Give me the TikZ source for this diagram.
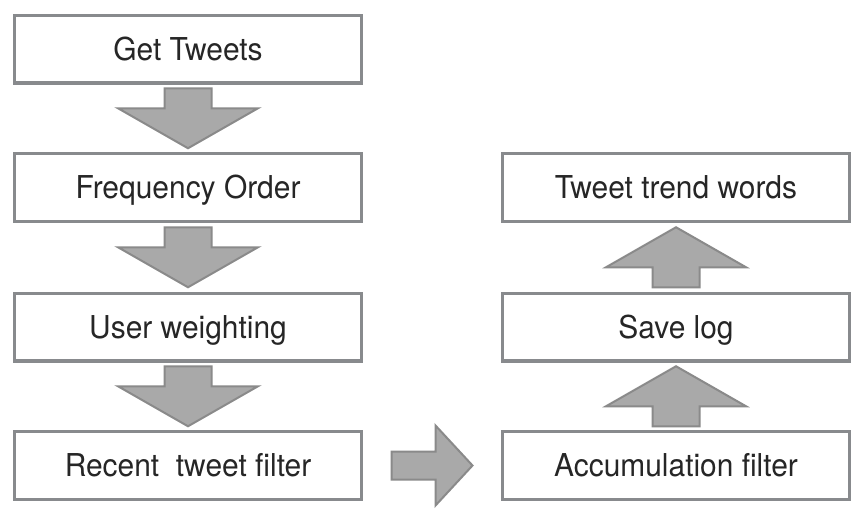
\documentclass[tikz,border=0pt]{standalone}
\usepackage{fontspec}
\setmainfont[FakeStretch=0.95]{TeX Gyre Heros}
\usetikzlibrary{calc}
\definecolor{boxline}{HTML}{888A8D}
\definecolor{arrfill}{HTML}{A9A9A9}
\definecolor{arrline}{HTML}{8A8A8A}
\definecolor{txt}{HTML}{262626}
\tikzset{
  stepbox/.style={draw=boxline, line width=3.3pt, fill=white,
    minimum width=346.7pt, minimum height=67.7pt, inner sep=0pt,
    text=txt, font=\fontsize{31.5}{36}\selectfont,
    text height=22.5pt, text depth=0pt},
  blk/.style={draw=arrline, fill=arrfill, line width=2pt, line join=miter},
  vblock/.pic={\path[blk] (-23.5,-30) -- (23.5,-30) -- (23.5,-10) -- (70,-10)
     -- (0,30) -- (-70,-10) -- (-23.5,-10) -- cycle;},
  hblock/.pic={\path[blk] (-40.5,-14) -- (3.5,-14) -- (3.5,-40) -- (40.5,0)
     -- (3.5,40) -- (3.5,14) -- (-40.5,14) -- cycle;}
}
\begin{document}
\begin{tikzpicture}[x=1pt,y=-1pt]
\useasboundingbox[fill=white] (0,0) rectangle (864,515);
\node[stepbox] (get) at (188,49) {Get Tweets};
\node[stepbox] (freq) at (188,187.5) {Frequency Order};
\node[stepbox] (user) at (188,327) {User weighting};
\node[stepbox] (recent) at (188,465.5) {Recent\ \ tweet filter};
\node[stepbox] (trend) at (676,187.5) {Tweet trend words};
\node[stepbox] (save) at (676,327) {Save log};
\node[stepbox] (accum) at (676,465.5) {Accumulation filter};
\pic at ($(get)!0.5!(freq)$) {vblock};
\pic at ($(freq)!0.5!(user)$) {vblock};
\pic at ($(user)!0.5!(recent)$) {vblock};
\pic at ($(recent)!0.5!(accum)$) {hblock};
\pic[rotate=180] at ($(accum)!0.5!(save)$) {vblock};
\pic[rotate=180] at ($(save)!0.5!(trend)$) {vblock};
\end{tikzpicture}
\end{document}
